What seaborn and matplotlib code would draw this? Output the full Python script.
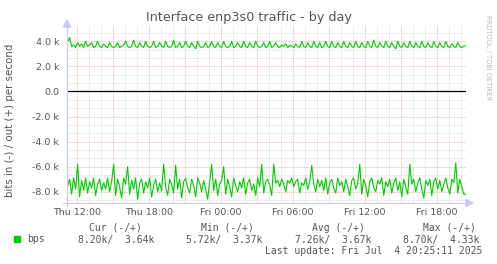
import numpy as np
import pandas as pd
import matplotlib
matplotlib.use("Agg")
import matplotlib.pyplot as plt
import matplotlib.dates as mdates
import seaborn as sns

# ---- data (k bits per second) ----
start_time = "2025-07-03 11:15"
step = "10min"

out_k = [
    3.9, 4.3, 3.6, 3.7, 3.5, 3.9, 3.6, 3.8, 3.5, 4.0, 3.6, 3.7, 3.9, 3.5, 3.6, 4.0, 3.6, 3.5, 3.8, 3.6,
    3.5, 3.9, 3.6, 3.5, 3.6, 3.9, 3.5, 3.6, 3.7, 4.0, 3.6, 3.5, 3.6, 4.1, 3.6, 3.5, 3.9, 3.6, 3.5, 4.0,
    3.6, 3.5, 3.6, 4.0, 3.5, 3.6, 3.9, 3.6, 3.5, 4.0, 3.6, 3.5, 3.6, 4.1, 3.5, 3.6, 3.9, 3.5, 3.6, 4.0,
    3.6, 3.5, 3.9, 3.6, 3.4, 4.0, 3.6, 3.5, 3.6, 3.9, 3.5, 3.6, 4.0, 3.6, 3.5, 3.9, 3.6, 3.5, 4.0, 3.6,
    3.5, 3.6, 4.0, 3.5, 3.6, 3.9, 3.6, 3.5, 4.0, 3.6, 3.5, 3.9, 3.6, 3.5, 4.0, 3.6, 3.5, 3.6, 3.9, 3.5,
    3.6, 4.0, 3.5, 3.6, 3.9, 3.6, 3.5, 3.7, 3.6, 3.8, 3.5, 3.7, 3.6, 3.5, 3.8, 3.6, 3.5, 4.0, 3.6, 3.5,
    3.9, 3.6, 3.5, 4.0, 3.6, 3.5, 3.9, 3.5, 3.6, 4.0, 3.6, 3.5, 4.0, 3.6, 3.5, 3.9, 3.6, 3.5, 4.0, 3.6,
    3.5, 3.9, 3.6, 3.5, 4.0, 3.6, 3.5, 3.9, 3.6, 3.5, 4.0, 3.6, 3.5, 4.1, 3.6, 3.5, 3.9, 3.6, 3.5, 4.0,
    3.6, 3.5, 3.9, 3.6, 3.4, 4.0, 3.6, 3.5, 3.9, 3.6, 3.5, 4.0, 3.6, 3.5, 3.9, 3.6, 3.5, 4.0, 3.6, 3.5,
    3.9, 3.6, 3.5, 4.0, 3.6, 3.5, 3.9, 3.6, 3.5, 4.0, 3.6, 3.5, 3.8, 3.6, 3.5, 3.9, 3.6, 3.5, 3.6, 3.64,
]

in_k = [
    7.6, 7.0, 8.2, 6.9, 7.8, 5.8, 8.4, 7.1, 7.9, 6.9, 8.1, 7.2, 7.7, 6.9, 8.3, 7.4, 7.0, 7.9, 7.3, 7.8,
    6.9, 8.0, 7.2, 5.8, 8.3, 7.0, 7.6, 8.5, 6.9, 7.4, 6.0, 8.2, 7.1, 7.8, 6.9, 8.6, 7.3, 7.0, 8.1, 7.2,
    7.7, 6.9, 8.4, 7.5, 7.0, 8.0, 7.3, 7.9, 5.8, 7.6, 8.3, 7.0, 7.4, 8.1, 5.9, 7.8, 7.0, 8.5, 7.2, 6.9,
    7.7, 8.1, 7.0, 7.5, 8.4, 6.9, 7.3, 8.0, 7.1, 7.8, 8.6, 7.2, 5.8, 7.9, 7.0, 8.3, 7.4, 7.1, 6.0, 8.2,
    7.0, 7.6, 8.4, 6.9, 7.5, 8.0, 7.2, 7.7, 6.9, 8.2, 7.3, 7.0, 7.9, 7.4, 8.3, 6.9, 7.6, 5.8, 8.1, 7.2,
    7.0, 7.5, 8.3, 5.8, 7.3, 7.1, 7.6, 7.0, 7.4, 8.0, 7.1, 7.3, 6.9, 7.6, 7.2, 7.0, 8.1, 7.3, 7.5, 6.9,
    7.8, 7.2, 5.9, 7.4, 8.0, 7.0, 7.6, 7.1, 7.9, 6.9, 8.2, 7.3, 7.0, 7.7, 8.1, 6.9, 7.5, 7.2, 8.0, 7.0,
    7.6, 8.3, 7.1, 6.9, 7.8, 7.3, 5.8, 8.2, 7.0, 7.5, 8.4, 7.2, 6.9, 7.7, 8.0, 7.1, 7.4, 6.9, 8.3, 7.2,
    7.6, 7.0, 8.1, 7.3, 6.9, 7.9, 7.2, 8.4, 7.0, 7.6, 8.2, 5.8, 7.4, 7.0, 8.0, 7.3, 6.9, 7.8, 8.5, 7.1,
    7.5, 7.0, 8.3, 7.2, 6.9, 7.8, 7.1, 8.0, 7.4, 6.9, 7.7, 8.2, 7.0, 7.3, 5.7, 8.1, 7.0, 7.6, 8.2, 8.2,
]

y_ticks = [-8, -6, -4, -2, 0, 2, 4]
y_tick_labels = ["-8.0 k", "-6.0 k", "-4.0 k", "-2.0 k", "0.0", "2.0 k", "4.0 k"]

legend_headers = ["Cur (-/+)", "Min (-/+)", "Avg (-/+)", "Max (-/+)"]
legend_values = ["8.20k/  3.64k", "5.72k/  3.37k", "7.26k/  3.67k", "8.70k/  4.33k"]
series_name = "bps"
last_update = "Last update: Fri Jul  4 20:25:11 2025"
title = "Interface enp3s0 traffic - by day"
ylabel = "bits in (-) / out (+) per second"
watermark = "RRDTOOL / TOBI OETIKER"

# ---- figure ----
W, H = 497, 264
sns.set_style("white")
plt.rcParams["font.family"] = ["DejaVu Sans"]
fig = plt.figure(figsize=(W / 100, H / 100), dpi=100)
fig.patch.set_facecolor("white")

def px(x, y):
    return x / W, 1 - y / H

ax_l, ax_r, ax_t, ax_b = 67, 466, 25, 203
ax = fig.add_axes([ax_l / W, 1 - ax_b / H, (ax_r - ax_l) / W, (ax_b - ax_t) / H])
ax.set_facecolor("white")

times = pd.date_range(start_time, periods=len(out_k), freq=step)
df = pd.DataFrame({
    "time": np.concatenate([times, times]),
    "value": np.concatenate([np.array(out_k), -np.array(in_k)]),
    "dir": ["out"] * len(out_k) + ["in"] * len(in_k),
})

x0 = pd.Timestamp("2025-07-03 11:12")
x1 = pd.Timestamp("2025-07-04 20:26")
ymin, ymax = -8.9, 5.3

# grid lines
grey = "#d6d6d6"
red = "#f0a8a8"
dash = (0, (1.0, 1.0))
for k in np.arange(-13, 9):
    v = k * 2 / 3
    if v < ymin or v > ymax:
        continue
    major = abs(v / 2 - round(v / 2)) < 1e-6
    ax.axhline(v, color=red if major else grey, lw=0.6, ls=dash, zorder=0)
for h in pd.date_range("2025-07-03 12:00", "2025-07-04 20:00", freq="1h"):
    ax.axvline(h, color=red if h.hour % 3 == 0 else grey, lw=0.6, ls=dash, zorder=0)

sns.lineplot(data=df, x="time", y="value", units="dir", estimator=None,
             color="#00cc00", lw=0.8, ax=ax, legend=False, zorder=3)
ax.axhline(0, color="black", lw=0.9, zorder=4)

ax.set_xlim(x0, x1)
ax.set_ylim(ymin, ymax)
for s in ax.spines.values():
    s.set_visible(False)

ax.set_yticks(y_ticks)
ax.set_yticklabels(y_tick_labels)
ax.xaxis.set_major_locator(mdates.HourLocator(byhour=[0, 6, 12, 18]))
ax.xaxis.set_major_formatter(mdates.DateFormatter("%a %H:%M"))
ax.tick_params(axis="both", length=0, labelsize=6.8, colors="#555555")
ax.tick_params(axis="y", pad=5.5)
ax.tick_params(axis="x", pad=3.5)
ax.set_xlabel("")
ax.set_ylabel("")

# axis lines with arrows
axis_col = "#c8c8f0"
fig.add_artist(plt.Line2D([ax_l / W, ax_l / W], [1 - 206 / H, 1 - 25 / H], color=axis_col, lw=0.9))
fig.add_artist(plt.Line2D([63 / W, 468 / W], [1 - ax_b / H, 1 - ax_b / H], color=axis_col, lw=0.9))
fig.add_artist(plt.Polygon([px(63.5, 27), px(70.5, 27), px(67, 20)], closed=True, color=axis_col))
fig.add_artist(plt.Polygon([px(466, 199.5), px(466, 206.5), px(473, 203)], closed=True, color=axis_col))

# text
fig.text(*px(248.5, 18), title, ha="center", va="center", fontsize=9.2, color="#555555")
fig.text(*px(10, 120), ylabel, ha="center", va="center", rotation=90, fontsize=7.4, color="#555555")
fig.text(*px(488, 58), watermark, ha="center", va="center", rotation=270, fontsize=4.8, color="#bbbbbb")

mono = "DejaVu Sans Mono"
fs = 7.0
tc = "#555555"
hdr_x = [89, 201, 312, 423]
val_x = [78, 186, 295, 403]
for hx, h in zip(hdr_x, legend_headers):
    fig.text(*px(hx, 228), h, ha="left", va="center", fontsize=fs, family=mono, color=tc)
for vx, v in zip(val_x, legend_values):
    fig.text(*px(vx, 239.5), v, ha="left", va="center", fontsize=fs, family=mono, color=tc)
fig.add_artist(plt.Rectangle(px(14, 242), 6 / W, 6 / H, color="#00cc00"))
fig.text(*px(27, 239.5), series_name, ha="left", va="center", fontsize=fs, family=mono, color=tc)
fig.text(*px(482, 251), last_update, ha="right", va="center", fontsize=fs, family=mono, color=tc)

fig.savefig("out.png", dpi=100, facecolor="white")
